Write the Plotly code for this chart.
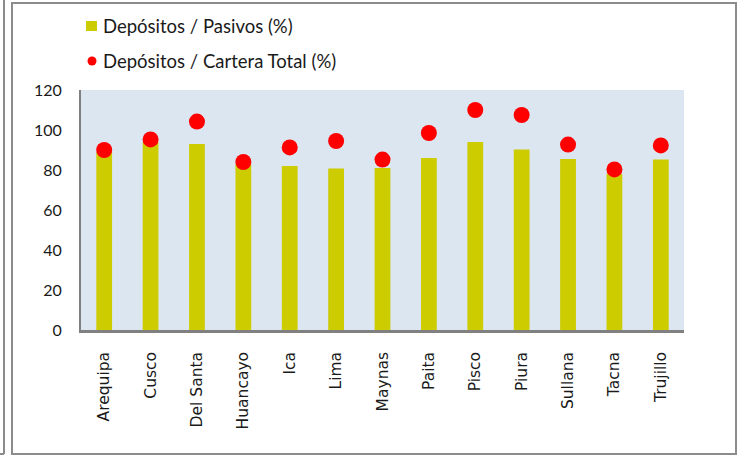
import plotly.graph_objects as go

categories = ["Arequipa", "Cusco", "Del Santa", "Huancayo", "Ica", "Lima", "Maynas",
              "Paita", "Pisco", "Piura", "Sullana", "Tacna", "Trujillo"]
depositos_pasivos = [89, 94, 93, 83, 82, 80.7, 81, 86, 94, 90.3, 85.5, 78, 85.3]
depositos_cartera = [90, 95.3, 104.2, 84, 91.3, 94.5, 85.2, 98.5, 110, 107.5, 92.7, 80.3, 92.3]
name_bar = "Depósitos / Pasivos (%)"
name_dot = "Depósitos / Cartera Total (%)"

W, H = 741, 456
L, R, T, B = 81, 57, 90, 126
pw, ph = W - L - R, H - T - B

def px(x):
    return (x - L) / pw

def py(y):
    return (H - B - y) / ph

fig = go.Figure()
fig.add_trace(go.Bar(x=categories, y=depositos_pasivos, name=name_bar,
                     marker=dict(color="#CCCC00", line=dict(width=0)), width=0.34,
                     showlegend=False))
fig.add_trace(go.Scatter(x=categories, y=depositos_cartera, name=name_dot, mode="markers",
                         marker=dict(color="#FF0000", size=16), showlegend=False))

frame = "#8C8C8C"
shapes = [
    dict(type="rect", xref="paper", yref="paper", x0=px(12), x1=px(736), y0=py(454), y1=py(3),
         line=dict(color=frame, width=2)),
    dict(type="line", xref="paper", yref="paper", x0=px(4), x1=px(4), y0=py(454), y1=py(-2),
         line=dict(color=frame, width=2)),
    dict(type="line", xref="paper", yref="paper", x0=px(-2), x1=px(4), y0=py(454), y1=py(454),
         line=dict(color=frame, width=2)),
    # legend symbols
    dict(type="rect", xref="paper", yref="paper", x0=px(86), x1=px(97), y0=py(31), y1=py(21),
         fillcolor="#CCCC00", line=dict(width=0)),
    dict(type="circle", xref="paper", yref="paper", x0=px(87.5), x1=px(96.5), y0=py(65.5), y1=py(56.5),
         fillcolor="#FF0000", line=dict(width=0)),
]
annotations = [
    dict(xref="paper", yref="paper", x=px(101), y=py(26), text=name_bar, showarrow=False,
         xanchor="left", yanchor="middle", font=dict(family="Lato", size=18.5, color="#1a1a1a")),
    dict(xref="paper", yref="paper", x=px(101), y=py(61), text=name_dot, showarrow=False,
         xanchor="left", yanchor="middle", font=dict(family="Lato", size=18.5, color="#1a1a1a")),
]

fig.update_layout(
    width=W, height=H,
    margin=dict(l=L, r=R, t=T, b=B),
    paper_bgcolor="white",
    plot_bgcolor="#DCE6F1",
    shapes=shapes,
    annotations=annotations,
    bargap=0.66,
    xaxis=dict(tickangle=-90, showgrid=False, showline=True, linecolor="#808080", linewidth=2.5,
               ticks="", ticklabelstandoff=13, tickfont=dict(family="DejaVu Sans", size=15.5, color="#1a1a1a"),
               range=[-0.5, 12.5]),
    yaxis=dict(range=[0, 120], dtick=20, showgrid=False, zeroline=False, showline=True,
               linecolor="#808080", linewidth=2, ticks="", ticklabelstandoff=14,
               tickfont=dict(family="Lato", size=16, color="#1a1a1a")),
)

fig.write_html("out.html", config={"displayModeBar": False},
               post_script="document.body.style.margin='0';document.body.style.overflow='hidden';")
